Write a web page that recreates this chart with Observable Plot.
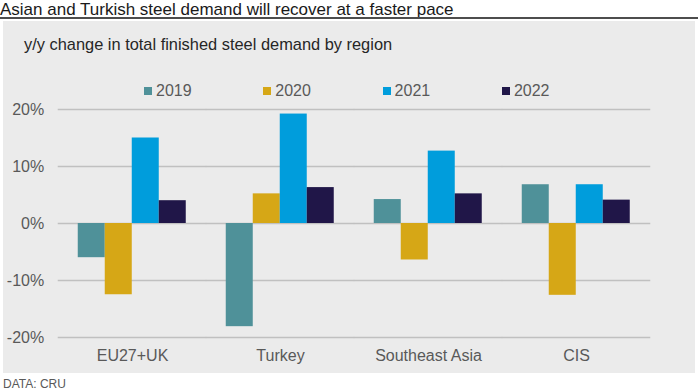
<!DOCTYPE html>
<html>
<head>
<meta charset="utf-8">
<script src="https://cdn.jsdelivr.net/npm/d3@7"></script>
<script src="https://cdn.jsdelivr.net/npm/@observablehq/plot@0.6"></script>
<style>
  body { margin: 0; background: #fff; }
  #root { position: relative; width: 698px; height: 390px; overflow: hidden; background: #fff; font-family: "Liberation Sans", Arial, sans-serif; }
  .abs { position: absolute; white-space: nowrap; }
  #title { left: 0; top: 0; font-size: 17px; line-height: normal; color: #1a1a1a; }
  #rule { left: 0; top: 17px; width: 698px; height: 2px; background: #4d4d4d; }
  #panel { left: 3px; top: 21px; width: 692px; height: 352px; background: #ebebeb; }
  #subtitle { left: 24px; top: 35.5px; font-size: 16.4px; line-height: 16px; color: #262626; }
  #legend { left: 0; top: 0; }
  .sw { position: absolute; width: 8px; height: 8px; top: 87px; }
  .lt { position: absolute; top: 82.5px; font-size: 16px; line-height: 16px; color: #595959; }
  #chart { left: 0; top: 100px; }
  #caption { left: 3px; top: 377.5px; font-size: 12px; line-height: 12px; color: #595959; }
</style>
</head>
<body>
<div id="root">
  <div id="title" class="abs"></div>
  <div id="rule" class="abs"></div>
  <div id="panel" class="abs"></div>
  <div id="subtitle" class="abs"></div>
  <div id="legend" class="abs"></div>
  <div id="chart" class="abs"></div>
  <div id="caption" class="abs"></div>
</div>
<script>
const titleText = "Asian and Turkish steel demand will recover at a faster pace";
const subtitleText = "y/y change in total finished steel demand by region";
const captionText = "DATA: CRU";

const regions = ["EU27+UK", "Turkey", "Southeast Asia", "CIS"];
const years = ["2019", "2020", "2021", "2022"];
const v2019 = [-6.0, -18.1, 4.2, 6.8];
const v2020 = [-12.5, 5.2, -6.4, -12.6];
const v2021 = [15.0, 19.2, 12.7, 6.8];
const v2022 = [4.0, 6.3, 5.2, 4.1];
const yTicks = [-20, -10, 0, 10, 20];
const colors = ["#4f9199", "#d6a716", "#009ddc", "#201648"];

const series = [v2019, v2020, v2021, v2022];
const data = regions.flatMap((r, i) => years.map((y, k) => ({region: r, year: y, value: series[k][i]})));

document.getElementById("title").textContent = titleText;
document.getElementById("subtitle").textContent = subtitleText;
document.getElementById("caption").textContent = captionText;

// legend
const legend = document.getElementById("legend");
years.forEach((y, k) => {
  const left = 144 + k * 119.3;
  const sw = document.createElement("div");
  sw.className = "sw";
  sw.style.left = left + "px";
  sw.style.background = colors[k];
  const lt = document.createElement("div");
  lt.className = "lt";
  lt.style.left = (left + 12) + "px";
  lt.textContent = y;
  legend.appendChild(sw);
  legend.appendChild(lt);
});

const pInner = 0.273;
const mLeft = 77.25, mRight = 67.25;
const step = (698 - mLeft - mRight) / (regions.length - pInner);
const gap = step * pInner / 2;

const chart = Plot.plot({
  width: 698,
  height: 273,
  marginLeft: mLeft,
  marginRight: mRight,
  marginTop: 9,
  marginBottom: 36,
  style: {background: "transparent", fontFamily: "'Liberation Sans', Arial, sans-serif", fontSize: "16px", color: "#595959", overflow: "visible"},
  fx: {domain: regions, paddingInner: pInner, paddingOuter: 0, label: null, axis: "bottom", tickSize: 0, tickPadding: 12},
  x: {domain: years, padding: 0, axis: null},
  y: {domain: [-20, 20], ticks: yTicks, tickFormat: d => d + "%", tickSize: 0, tickPadding: 14 + gap, label: null},
  color: {domain: years, range: colors},
  marks: [
    Plot.ruleY(yTicks, {stroke: "#c0c0c0", strokeWidth: 1.5, insetLeft: -gap, insetRight: -gap}),
    Plot.barY(data, {fx: "region", x: "year", y: "value", fill: "year", inset: 0})
  ]
});
document.getElementById("chart").appendChild(chart);
</script>
</body>
</html>
